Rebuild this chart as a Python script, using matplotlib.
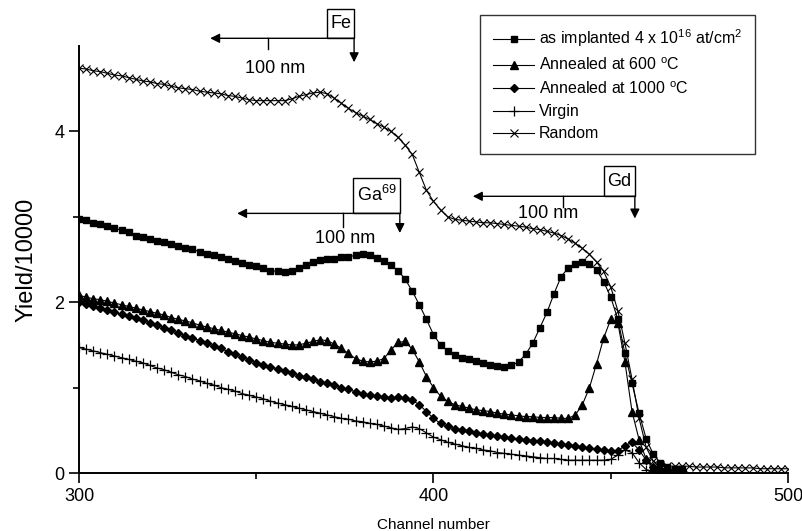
import matplotlib
matplotlib.use('Agg')
import matplotlib.pyplot as plt
from matplotlib.patches import Rectangle
import numpy as np

plt.rcParams['font.family'] = ['Liberation Sans', 'DejaVu Sans']
plt.rcParams['mathtext.fontset'] = 'custom'
plt.rcParams['mathtext.rm'] = 'Liberation Sans'
plt.rcParams['mathtext.it'] = 'Liberation Sans:italic'

# channel numbers (every second channel)
channels = list(range(300, 472, 2))
channels_random = list(range(300, 502, 2))

implanted = [
    2.98, 2.96, 2.93, 2.92, 2.89, 2.87, 2.84, 2.82, 2.78, 2.76,
    2.74, 2.72, 2.70, 2.68, 2.66, 2.64, 2.62, 2.59, 2.57, 2.55,
    2.53, 2.51, 2.48, 2.46, 2.44, 2.42, 2.40, 2.37, 2.36, 2.35,
    2.36, 2.40, 2.44, 2.47, 2.49, 2.50, 2.51, 2.53, 2.53, 2.55,
    2.56, 2.55, 2.52, 2.48, 2.43, 2.37, 2.27, 2.13, 1.97, 1.80,
    1.62, 1.50, 1.43, 1.38, 1.35, 1.33, 1.31, 1.29, 1.27, 1.25,
    1.24, 1.26, 1.30, 1.39, 1.52, 1.70, 1.88, 2.10, 2.30, 2.40,
    2.45, 2.47, 2.45, 2.38, 2.24, 2.06, 1.80, 1.40, 1.05, 0.70,
    0.40, 0.22, 0.12, 0.07, 0.05, 0.05]

annealed_600 = [
    2.08, 2.06, 2.04, 2.03, 2.01, 1.99, 1.97, 1.95, 1.93, 1.91,
    1.89, 1.87, 1.85, 1.82, 1.80, 1.78, 1.76, 1.73, 1.71, 1.69,
    1.67, 1.65, 1.63, 1.61, 1.59, 1.57, 1.55, 1.53, 1.52, 1.51,
    1.50, 1.50, 1.52, 1.54, 1.56, 1.55, 1.51, 1.46, 1.40, 1.34,
    1.31, 1.30, 1.31, 1.34, 1.44, 1.53, 1.54, 1.45, 1.30, 1.13,
    1.00, 0.90, 0.84, 0.80, 0.78, 0.76, 0.74, 0.73, 0.72, 0.70,
    0.69, 0.68, 0.67, 0.66, 0.66, 0.65, 0.65, 0.65, 0.64, 0.64,
    0.68, 0.80, 1.00, 1.28, 1.58, 1.80, 1.76, 1.30, 0.72, 0.39,
    0.16, 0.06, 0.04, 0.04, 0.04, 0.04]

annealed_1000 = [
    2.00, 1.98, 1.95, 1.93, 1.91, 1.88, 1.86, 1.84, 1.81, 1.79,
    1.76, 1.73, 1.70, 1.67, 1.64, 1.61, 1.58, 1.55, 1.52, 1.49,
    1.46, 1.42, 1.39, 1.36, 1.32, 1.29, 1.27, 1.24, 1.22, 1.19,
    1.17, 1.14, 1.12, 1.10, 1.07, 1.05, 1.03, 1.00, 0.98, 0.95,
    0.93, 0.91, 0.90, 0.89, 0.88, 0.89, 0.88, 0.85, 0.80, 0.72,
    0.64, 0.58, 0.55, 0.52, 0.50, 0.49, 0.47, 0.46, 0.44, 0.43,
    0.42, 0.41, 0.40, 0.39, 0.38, 0.37, 0.36, 0.35, 0.34, 0.33,
    0.32, 0.30, 0.29, 0.28, 0.27, 0.26, 0.26, 0.32, 0.36, 0.27,
    0.15, 0.07, 0.04, 0.03, 0.03, 0.03]

virgin = [
    1.47, 1.45, 1.43, 1.41, 1.39, 1.37, 1.35, 1.33, 1.31, 1.29,
    1.26, 1.23, 1.21, 1.18, 1.15, 1.13, 1.10, 1.08, 1.05, 1.03,
    1.00, 0.98, 0.96, 0.93, 0.91, 0.89, 0.87, 0.84, 0.82, 0.80,
    0.78, 0.76, 0.74, 0.72, 0.70, 0.68, 0.66, 0.64, 0.63, 0.61,
    0.60, 0.58, 0.57, 0.55, 0.53, 0.51, 0.52, 0.54, 0.52, 0.47,
    0.42, 0.39, 0.36, 0.34, 0.32, 0.30, 0.29, 0.27, 0.26, 0.24,
    0.23, 0.22, 0.21, 0.20, 0.19, 0.18, 0.17, 0.17, 0.16, 0.15,
    0.15, 0.15, 0.15, 0.15, 0.15, 0.16, 0.21, 0.27, 0.24, 0.12,
    0.04, 0.02, 0.02, 0.02, 0.02, 0.02]

random_dir = [
    4.74, 4.73, 4.71, 4.70, 4.68, 4.66, 4.65, 4.63, 4.61, 4.59,
    4.58, 4.56, 4.55, 4.53, 4.51, 4.50, 4.49, 4.47, 4.46, 4.45,
    4.44, 4.42, 4.41, 4.39, 4.37, 4.36, 4.36, 4.36, 4.36, 4.36,
    4.38, 4.41, 4.43, 4.45, 4.46, 4.44, 4.39, 4.33, 4.27, 4.22,
    4.18, 4.14, 4.09, 4.05, 4.00, 3.93, 3.84, 3.73, 3.52, 3.31,
    3.18, 3.08, 3.00, 2.97, 2.96, 2.95, 2.94, 2.93, 2.93, 2.92,
    2.91, 2.90, 2.89, 2.88, 2.86, 2.85, 2.83, 2.81, 2.78, 2.74,
    2.69, 2.63, 2.56, 2.47, 2.36, 2.18, 1.90, 1.52, 1.10, 0.64,
    0.30, 0.14, 0.09, 0.08, 0.08, 0.08, 0.08, 0.07, 0.07, 0.07,
    0.07, 0.06, 0.06, 0.06, 0.06, 0.06, 0.05, 0.05, 0.05, 0.05,
    0.05]

labels = [r'as implanted 4 x 10$^{16}$ at/cm$^{2}$',
          r'Annealed at 600 $^{\rm o}$C',
          r'Annealed at 1000 $^{\rm o}$C',
          'Virgin',
          'Random']

fig = plt.figure(figsize=(8.03, 5.31), dpi=100)
ax = fig.add_axes([0.0984, 0.1092, 0.8829, 0.8042])

lw = 0.8
ax.plot(channels, implanted, color='k', lw=lw, marker='s', ms=5, label=labels[0])
ax.plot(channels, annealed_600, color='k', lw=lw, marker='^', ms=5.8, label=labels[1])
ax.plot(channels, annealed_1000, color='k', lw=lw, marker='D', ms=4.3, label=labels[2])
ax.plot(channels, virgin, color='k', lw=lw, marker='+', ms=6.5, mew=0.9, label=labels[3])
ax.plot(channels_random, random_dir, color='k', lw=lw, marker='x', ms=5.2, mew=0.8,
        label=labels[4])

ax.set_xlim(300, 500)
ax.set_ylim(0, 5)
ax.set_xticks([300, 400, 500])
ax.set_xticks([350, 450], minor=True)
ax.set_yticks([0, 2, 4])
ax.set_yticks([1, 3], minor=True)
for s in ['top', 'right']:
    ax.spines[s].set_visible(False)
for s in ['left', 'bottom']:
    ax.spines[s].set_linewidth(1.4)
ax.tick_params(which='major', direction='out', length=7, width=1.2, labelsize=13)
ax.tick_params(which='minor', direction='out', length=4, width=1.2)
ax.set_xlabel('Channel number', fontsize=11, labelpad=10)
ax.set_ylabel('Yield/10000', fontsize=17, labelpad=12)

leg = ax.legend(loc='upper left', bbox_to_anchor=(480 / 803, 1 - 15 / 531),
                bbox_transform=fig.transFigure, fontsize=11.5, frameon=True,
                fancybox=False, edgecolor='k', borderpad=0.8, labelspacing=0.45,
                handlelength=2.6, handletextpad=0.3, borderaxespad=0,
                numpoints=1)
leg.get_frame().set_linewidth(1.0)


def depth_marker(name, box, y_line, x_tip, x_tick, y_tick, y_down, text_xy):
    x0, x1, y0, y1 = box
    ax.add_patch(Rectangle((x0, y0), x1 - x0, y1 - y0, fill=False, ec='k',
                           lw=1, clip_on=False))
    ax.text((x0 + x1) / 2, (y0 + y1) / 2, name, ha='center', va='center',
            fontsize=13, clip_on=False)
    ax.annotate('', xy=(x_tip, y_line), xytext=(x1, y_line),
                arrowprops=dict(arrowstyle='-|>', color='k', lw=1,
                                mutation_scale=14, shrinkA=0, shrinkB=0),
                annotation_clip=False)
    ax.annotate('', xy=(x1, y_down), xytext=(x1, y_line),
                arrowprops=dict(arrowstyle='-|>', color='k', lw=1,
                                mutation_scale=14, shrinkA=0, shrinkB=0),
                annotation_clip=False)
    ax.plot([x_tick, x_tick], [y_line, y_tick], color='k', lw=1, clip_on=False)
    ax.text(text_xy[0], text_xy[1], '100 nm', ha='center', va='center',
            fontsize=13, clip_on=False)


depth_marker('Fe', (370.0, 377.6, 5.09, 5.43), 5.09, 337.0, 353.3, 4.96, 4.81,
             (355.3, 4.74))
depth_marker(r'Ga$^{69}$', (377.3, 390.5, 3.04, 3.46), 3.04, 344.6, 374.5, 2.88,
             2.81, (375.1, 2.75))
depth_marker('Gd', (448.1, 456.8, 3.24, 3.59), 3.24, 411.1, 436.5, 3.11, 2.98,
             (432.3, 3.04))

fig.savefig('out.png', dpi=100)
